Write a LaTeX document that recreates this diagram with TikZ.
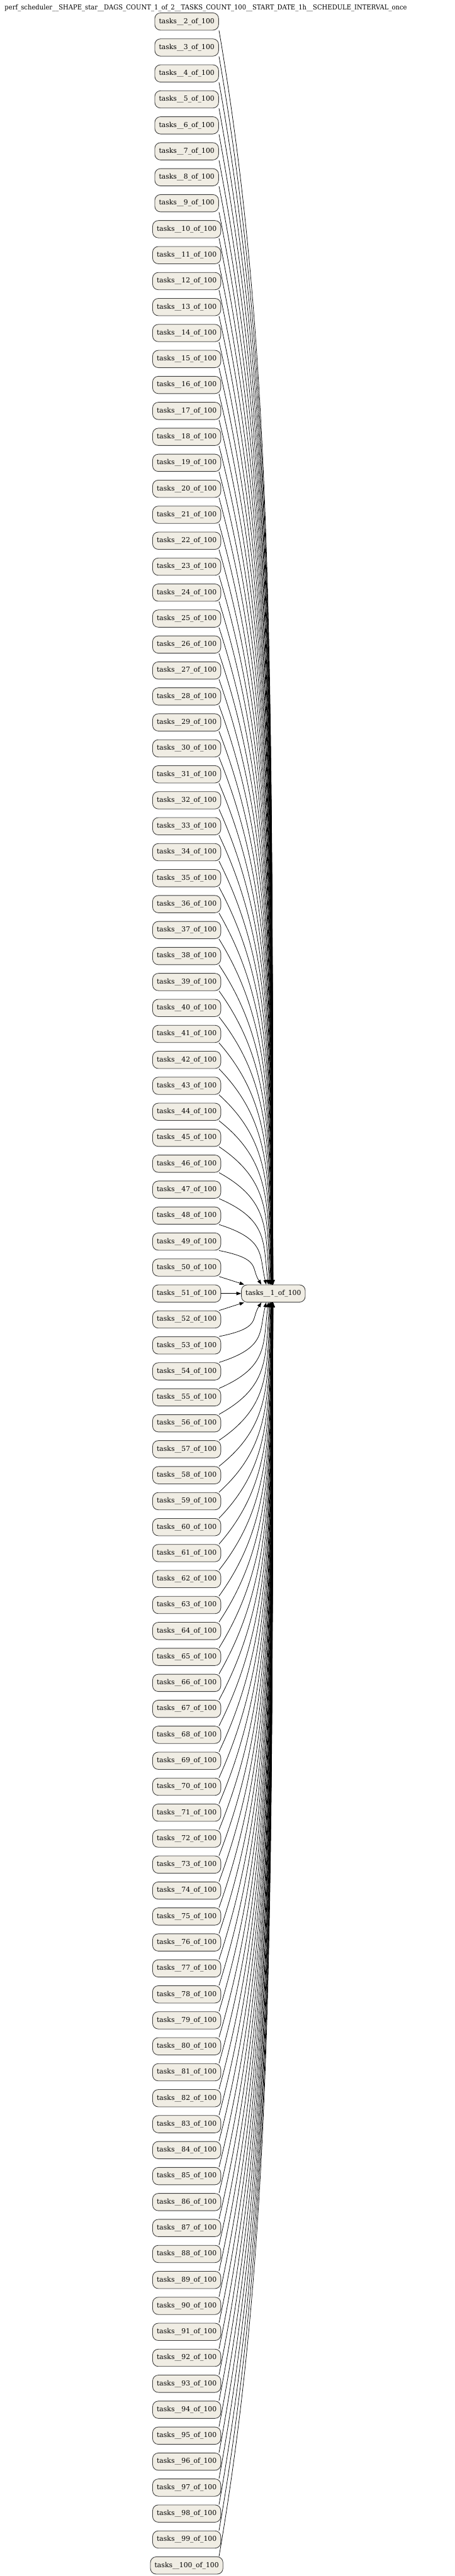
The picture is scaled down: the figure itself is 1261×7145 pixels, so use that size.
\documentclass[tikz,border=0pt]{standalone}
\usepackage{fontspec}
\setmainfont{DejaVu Serif}
\usetikzlibrary{arrows.meta,calc}
\definecolor{taskfill}{HTML}{F0EDE4}
\definecolor{taskline}{HTML}{3A3A3A}
\begin{document}
\begin{tikzpicture}[x=1pt,y=-1pt,
  task/.style={draw=taskline, fill=taskfill, rounded corners=16pt, line width=1.5pt,
    minimum height=48pt, inner xsep=11.5pt, inner ysep=0pt,
    font=\fontsize{18.9}{18.9}\selectfont},
  edge/.style={draw=black, line width=1.3pt, -{Triangle[length=13pt,width=9.5pt]}},
  titlestyle/.style={font=\fontsize{18.9}{18.9}\selectfont, inner sep=0pt}]
\useasboundingbox[fill=white] (0,0) rectangle (1261,7145);
\node[titlestyle, anchor=base] (title) at (570.5,26.7)
  {\resizebox{1115pt}{\height}{perf\_scheduler\_\_SHAPE\_star\_\_DAGS\_COUNT\_1\_of\_2\_\_TASKS\_COUNT\_100\_\_START\_DATE\_1h\_\_SCHEDULE\_INTERVAL\_once}};
\foreach \k in {2,...,100}{
  \node[task] (n\k) at (517.5,{59.7+72*(\k-2)}) {tasks\_\_\k\_of\_100};
}
\node[task] (t) at (757.6,3587.7) {tasks\_\_1\_of\_100};
% upper edges
\foreach \k in {2,...,50}{
  \pgfmathsetmacro\nn{51-\k}
  \pgfmathsetmacro\ofs{80/(\nn^1.3)}
  \pgfmathsetmacro\bend{60/\nn}
  \coordinate (s) at ($(n\k.south)+(89.5,0)$);
  \coordinate (e) at ($(t.north)+({-0.6-\ofs},0)$);
  \coordinate (q1) at ($(s)!0.25!(e)$);
  \coordinate (q2) at ($(s)!0.5!(e)$);
  \path (e |- q2) ++(-\bend,0) coordinate (c2);
  \ifnum\k=50
    \draw[edge] (s) -- (e);
  \else
    \draw[edge] (s) .. controls (e |- q1) and (c2) .. (e);
  \fi
}
% middle edge
\draw[edge] (n51) -- (t);
% lower edges
\foreach \k in {52,...,100}{
  \pgfmathsetmacro\nn{\k-51}
  \pgfmathsetmacro\ofs{80/(\nn^1.3)}
  \pgfmathsetmacro\bend{60/\nn}
  \coordinate (s) at ($(n\k.north)+(89.5,0)$);
  \coordinate (e) at ($(t.south)+({-0.6-\ofs},0)$);
  \coordinate (q1) at ($(s)!0.25!(e)$);
  \coordinate (q2) at ($(s)!0.5!(e)$);
  \path (e |- q2) ++(-\bend,0) coordinate (c2);
  \ifnum\k=52
    \draw[edge] (s) -- (e);
  \else
    \draw[edge] (s) .. controls (e |- q1) and (c2) .. (e);
  \fi
}
\end{tikzpicture}
\end{document}
